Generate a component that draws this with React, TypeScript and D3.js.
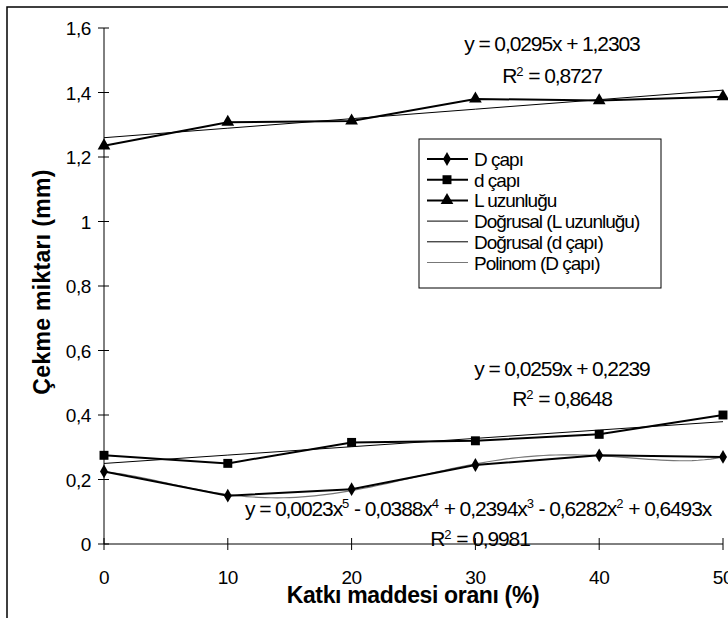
import React from 'react';
import * as d3 from 'd3';

// percent of additive
const katki = [0, 10, 20, 30, 40, 50];
const dCapiBuyuk = [0.225, 0.15, 0.17, 0.245, 0.275, 0.27]; // D çapı
const dCapiKucuk = [0.275, 0.25, 0.315, 0.32, 0.34, 0.4]; // d çapı
const lUzunlugu = [1.235, 1.308, 1.312, 1.38, 1.375, 1.387]; // L uzunluğu
const yTicks = [0, 0.2, 0.4, 0.6, 0.8, 1, 1.2, 1.4, 1.6];

// linear trendline coefficients [slope, intercept] as shown on the chart (x = point index 1..6)
const trendL = [0.0295, 1.2303];
const trendD = [0.0259, 0.2239];

const legendItems = ['D çapı', 'd çapı', 'L uzunluğu', 'Doğrusal (L uzunluğu)', 'Doğrusal (d çapı)', 'Polinom (D çapı)'];

// degree 5 polynomial without intercept, least squares on index 1..6
function polyFit(ys: number[]) {
    const n = 5;
    const A = d3.range(n).map(() => new Array(n + 1).fill(0));
    ys.forEach((y, k) => {
        const t = k + 1;
        const b = d3.range(n).map(j => Math.pow(t, j + 1));
        for (let r = 0; r < n; r++) {
            for (let c = 0; c < n; c++) A[r][c] += b[r] * b[c];
            A[r][n] += b[r] * y;
        }
    });
    for (let i = 0; i < n; i++) {
        let p = i;
        for (let r = i + 1; r < n; r++) if (Math.abs(A[r][i]) > Math.abs(A[p][i])) p = r;
        [A[i], A[p]] = [A[p], A[i]];
        for (let r = 0; r < n; r++) {
            if (r === i) continue;
            const f = A[r][i] / A[i][i];
            for (let c = i; c <= n; c++) A[r][c] -= f * A[i][c];
        }
    }
    const coef = A.map((row, i) => row[n] / row[i]);
    return (t: number) => coef.reduce((s, c, j) => s + c * Math.pow(t, j + 1), 0);
}

const font = '"Liberation Sans", Arial, sans-serif';

const App = () => {
    const x = d3.scaleLinear().domain([0, 50]).range([104, 723]);
    const y = d3.scaleLinear().domain([0, 1.6]).range([544, 28]);

    const line = d3.line<[number, number]>().x(d => x(d[0])).y(d => y(d[1]));
    const pts = (vals: number[]) => katki.map((k, i) => [k, vals[i]] as [number, number]);

    const trend = (c: number[]) =>
        line(katki.map((k, i) => [k, c[0] * (i + 1) + c[1]] as [number, number]));

    const poly = polyFit(dCapiBuyuk);
    const polyPts = d3.range(0, 50.01, 0.5).map(k => [k, poly(k / 10 + 1)] as [number, number]);

    const diamond = d3.symbol().type(d3.symbolDiamond).size(55)();
    const square = d3.symbol().type(d3.symbolSquare).size(80)();
    const triangle = d3.symbol().type(d3.symbolTriangle).size(70)();
    const markers = [diamond, square, triangle];

    const fmt = (v: number) => String(+v.toFixed(1)).replace('.', ',');

    const tick = { fontFamily: font, fontSize: 19, letterSpacing: -0.4, fill: '#000' } as const;
    const eq = { fontFamily: font, fontSize: 21, letterSpacing: -1.1, fill: '#000' } as const;
    const leg = { fontFamily: font, fontSize: 19, letterSpacing: -1, fill: '#000' } as const;
    const sup = { fontSize: 13, letterSpacing: 0 };

    return (
        <svg width={728} height={618} style={{ position: 'absolute', left: 0, top: 0, background: '#fff' }}>
            <rect x={7} y={7} width={740} height={640} fill="none" stroke="#000" strokeWidth={1.5} />

            {/* axes */}
            <line x1={x(0)} x2={x(0)} y1={y(1.6)} y2={y(0)} stroke="#000" />
            <line x1={x(0)} x2={x(50)} y1={y(0)} y2={y(0)} stroke="#000" />
            {yTicks.map(t => (
                <g key={t}>
                    <line x1={x(0) - 6} x2={x(0) + 5} y1={y(t)} y2={y(t)} stroke="#000" />
                    <text x={91} y={y(t) + 7} textAnchor="end" {...tick}>{fmt(t)}</text>
                </g>
            ))}
            {katki.map(k => (
                <g key={k}>
                    <line x1={x(k)} x2={x(k)} y1={y(0) - 6} y2={y(0) + 6} stroke="#000" />
                    <text x={x(k)} y={584} textAnchor="middle" {...tick}>{k}</text>
                </g>
            ))}

            <text x={413} y={603} textAnchor="middle" fontFamily={font} fontSize={23} fontWeight="bold" letterSpacing={-0.35}>
                Katkı maddesi oranı (%)
            </text>
            <text transform="translate(50,282) rotate(-90)" textAnchor="middle" fontFamily={font} fontSize={23} fontWeight="bold" letterSpacing={0.3}>
                Çekme miktarı (mm)
            </text>

            {/* trendlines */}
            <path d={trend(trendL) ?? ''} fill="none" stroke="#000" strokeWidth={1} />
            <path d={trend(trendD) ?? ''} fill="none" stroke="#000" strokeWidth={1} />
            <path d={line(polyPts) ?? ''} fill="none" stroke="#777" strokeWidth={1.2} />

            {/* series */}
            {[dCapiBuyuk, dCapiKucuk, lUzunlugu].map((vals, si) => (
                <g key={si}>
                    <path d={line(pts(vals)) ?? ''} fill="none" stroke="#000" strokeWidth={2} />
                    {pts(vals).map((p, i) => (
                        <path key={i} d={markers[si] ?? ''} transform={`translate(${x(p[0])},${y(p[1])})`} fill="#000" />
                    ))}
                </g>
            ))}

            {/* equations */}
            <text x={552} y={51} textAnchor="middle" {...eq}>y = 0,0295x + 1,2303</text>
            <text x={552} y={83} textAnchor="middle" {...eq}>
                R<tspan dy={-7} {...sup}>2</tspan><tspan dy={7}> = 0,8727</tspan>
            </text>
            <text x={562} y={376} textAnchor="middle" {...eq}>y = 0,0259x + 0,2239</text>
            <text x={562} y={406} textAnchor="middle" {...eq}>
                R<tspan dy={-7} {...sup}>2</tspan><tspan dy={7}> = 0,8648</tspan>
            </text>
            <text x={245} y={516} {...eq}>
                y = 0,0023x<tspan dy={-8} {...sup}>5</tspan>
                <tspan dy={8}> - 0,0388x</tspan><tspan dy={-8} {...sup}>4</tspan>
                <tspan dy={8}> + 0,2394x</tspan><tspan dy={-8} {...sup}>3</tspan>
                <tspan dy={8}> - 0,6282x</tspan><tspan dy={-8} {...sup}>2</tspan>
                <tspan dy={8}> + 0,6493x</tspan>
            </text>
            <text x={480} y={546} textAnchor="middle" {...eq}>
                R<tspan dy={-7} {...sup}>2</tspan><tspan dy={7}> = 0,9981</tspan>
            </text>

            {/* legend */}
            <rect x={419} y={139} width={242} height={149} fill="#fff" stroke="#000" strokeWidth={1} />
            {legendItems.map((name, i) => {
                const ly = 159 + i * 20.7;
                return (
                    <g key={name}>
                        <line x1={427} x2={468} y1={ly} y2={ly}
                            stroke={i === 5 ? '#777' : '#000'} strokeWidth={i < 3 ? 2 : i === 5 ? 1.2 : 1} />
                        {i < 3 && <path d={markers[i] ?? ''} transform={`translate(447,${ly})`} fill="#000" />}
                        <text x={474} y={ly + 7} {...leg}>{name}</text>
                    </g>
                );
            })}
        </svg>
    );
};

export default App;
